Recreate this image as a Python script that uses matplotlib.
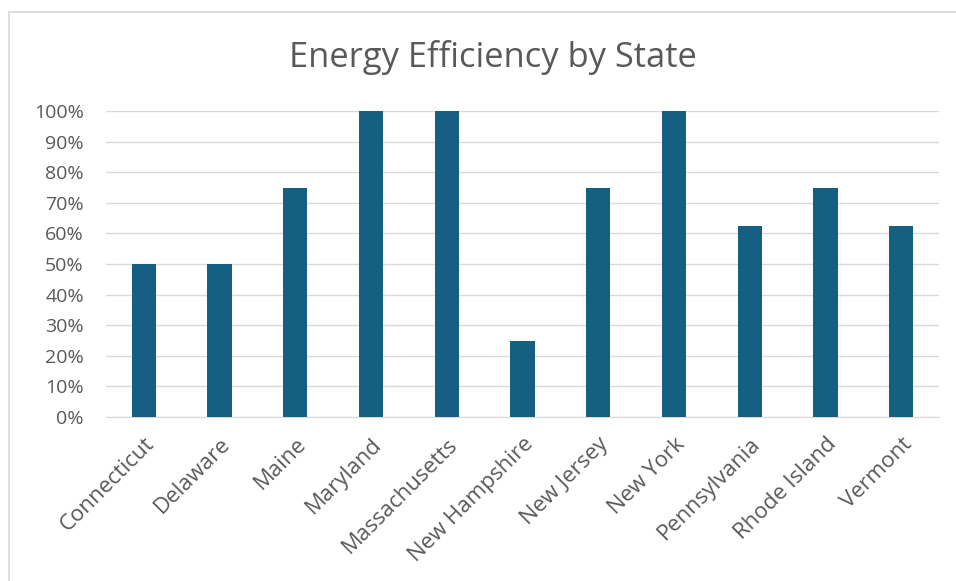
import matplotlib
matplotlib.use("Agg")
import matplotlib.pyplot as plt
from matplotlib.ticker import PercentFormatter, MultipleLocator
from matplotlib.patches import Rectangle

states = ["Connecticut", "Delaware", "Maine", "Maryland", "Massachusetts",
          "New Hampshire", "New Jersey", "New York", "Pennsylvania",
          "Rhode Island", "Vermont"]
values = [50, 50, 75, 100, 100, 25, 75, 100, 62.5, 75, 62.5]
title = "Energy Efficiency by State"

plt.rcParams['font.family'] = ['Open Sans', 'DejaVu Sans']
fig = plt.figure(figsize=(9.56, 5.81), dpi=100)
fig.patches.append(Rectangle((8.5/956, -0.1), 1.2, 1 - 12.5/581 + 0.1, transform=fig.transFigure,
                             fill=False, edgecolor="#d9d9d9", linewidth=1.2))
ax = fig.add_axes([106/956, 1 - 417/581, (939-106)/956, (417-111)/581])

x = range(len(states))
ax.bar(x, values, width=0.32, color="#156082", zorder=3)
ax.set_xlim(-0.5, len(states) - 0.5)
ax.set_ylim(0, 100)
ax.yaxis.set_major_locator(MultipleLocator(10))
ax.yaxis.set_major_formatter(PercentFormatter(decimals=0))
ax.grid(axis="y", color="#d9d9d9", linewidth=1, zorder=0)
for s in ["top", "right", "left"]:
    ax.spines[s].set_visible(False)
ax.spines["bottom"].set_color("#d9d9d9")
ax.tick_params(axis="both", length=0, colors="#595959")
ax.tick_params(axis="y", pad=16, labelsize=14)
ax.set_xticks(list(x))
ax.set_xticklabels(states, rotation=45, ha="right", rotation_mode="anchor")
ax.tick_params(axis="x", pad=12, labelsize=16)
fig.text(492.5/956, 1 - 67/581, title, ha="center", va="baseline", fontsize=24.8, color="#595959")
fig.savefig("out.png", dpi=100)
